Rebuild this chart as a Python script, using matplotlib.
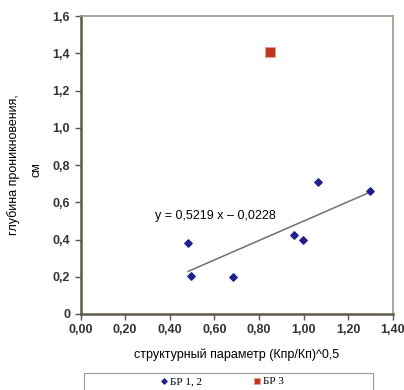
import matplotlib
matplotlib.use("Agg")
import matplotlib.pyplot as plt
import numpy as np
from matplotlib.patches import Rectangle
from matplotlib.ticker import FuncFormatter

# data
br12_x = [0.482, 0.497, 0.681, 0.958, 0.998, 1.064, 1.296]
br12_y = [0.38, 0.203, 0.20, 0.423, 0.40, 0.711, 0.66]
br3_x = [0.848]
br3_y = [1.405]

trend_slope = 0.5219
trend_intercept = -0.0228
trend_label = "y = 0,5219 x \u2013 0,0228"

x_ticks = [0.0, 0.2, 0.4, 0.6, 0.8, 1.0, 1.2, 1.4]
y_ticks = [0.0, 0.2, 0.4, 0.6, 0.8, 1.0, 1.2, 1.4, 1.6]

plt.rcParams["font.family"] = ["Liberation Sans", "DejaVu Sans"]

W, H = 404, 390
fig = plt.figure(figsize=(W / 100, H / 100), dpi=100)
ax = fig.add_axes([80.5 / W, 1 - 314 / H, (393 - 80.5) / W, (314 - 16) / H])

ax.scatter(br12_x, br12_y, marker="D", s=14, color="#1f1f8f", zorder=3, label="БР 1, 2")
ax.scatter(br3_x, br3_y, marker="s", s=50, color="#c0361f", edgecolors="#e8a090",
           linewidths=0.6, zorder=3, label="БР 3")

tx = np.array([min(br12_x), max(br12_x)])
ax.plot(tx, trend_slope * tx + trend_intercept, color="#707070", lw=1.1, zorder=2)
ax.text(0.333, 0.528, trend_label, fontsize=9, va="center", ha="left")

ax.set_xlim(0, 1.4)
ax.set_ylim(0, 1.6)
ax.set_xticks(x_ticks)
ax.set_yticks(y_ticks)
ax.xaxis.set_major_formatter(FuncFormatter(lambda v, p: f"{v:.2f}".replace(".", ",")))
ax.yaxis.set_major_formatter(FuncFormatter(
    lambda v, p: "0" if v == 0 else f"{v:.1f}".replace(".", ",")))
ax.tick_params(direction="out", length=4, width=1, color="#555555", labelsize=9,
               labelcolor="#333333")
for lbl in ax.get_xticklabels() + ax.get_yticklabels():
    lbl.set_fontweight("bold")

for side in ["left", "bottom"]:
    ax.spines[side].set_color("#5f5a4a")
    ax.spines[side].set_linewidth(1.8)
for side in ["top", "right"]:
    ax.spines[side].set_color("#9a9888")
    ax.spines[side].set_linewidth(1.2)

ax.set_xlabel("структурный параметр (Кпр/Кп)^0,5", fontsize=9, labelpad=9)
fig.text(14 / W, 1 - 165 / H, "глубина проникновения,", rotation=90, fontsize=9,
         ha="center", va="center")
fig.text(37 / W, 1 - 170 / H, "см", rotation=90, fontsize=9, ha="center", va="center")

# legend box spans most of the bottom, entries sit in the middle
fig.patches.append(Rectangle((84 / W, -0.01), (373 - 84) / W, 0.01 + 17 / H,
                             transform=fig.transFigure, facecolor="white",
                             edgecolor="#999999", linewidth=0.8))
leg = fig.legend(loc="center", bbox_to_anchor=(221 / W, 1 - 381 / H), ncol=2,
                 prop={"family": "Liberation Serif", "size": 8}, frameon=False,
                 columnspacing=4.5, handletextpad=0.0, handlelength=1.0,
                 markerscale=0.7, borderpad=0)

fig.savefig("out.png", dpi=100)
